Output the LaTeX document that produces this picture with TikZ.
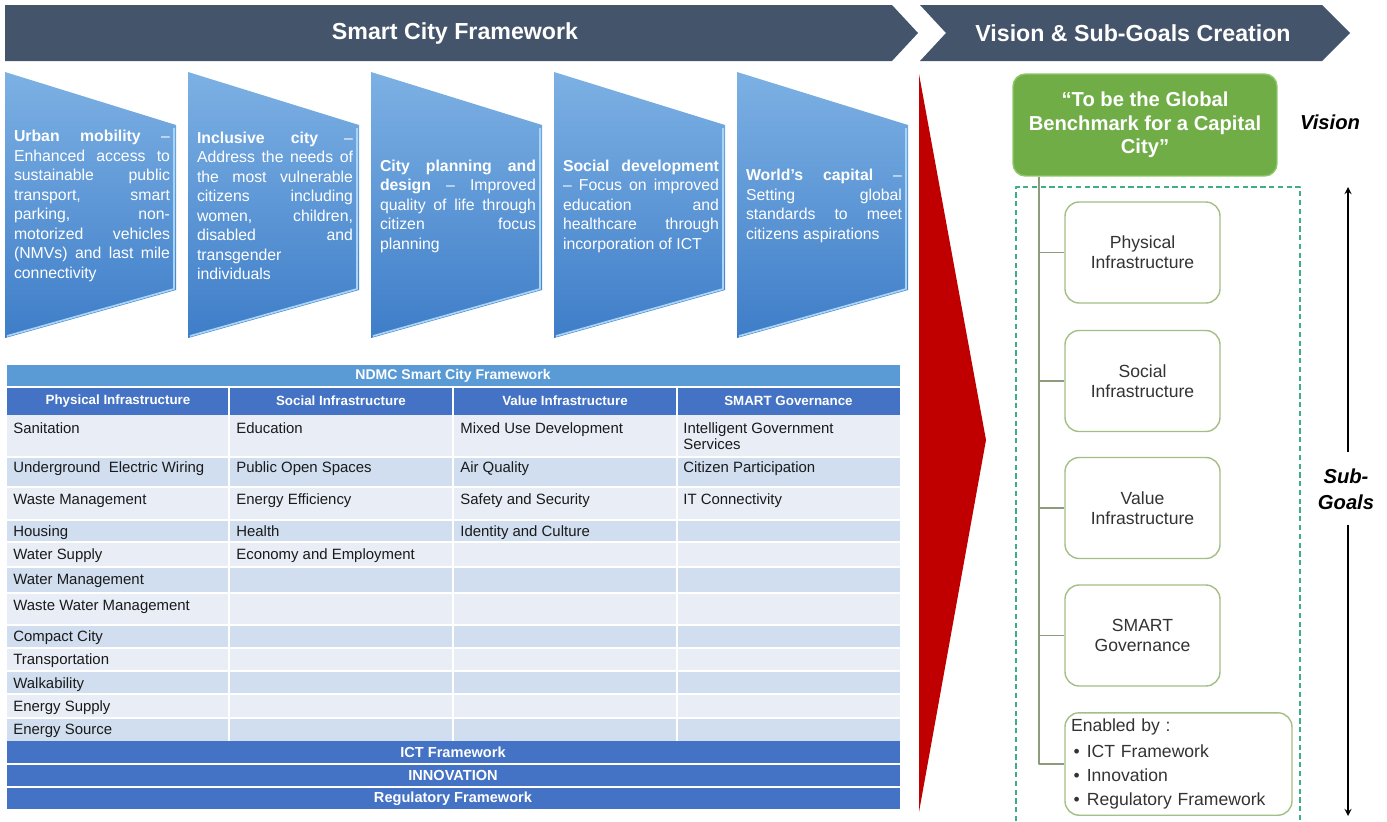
\documentclass[tikz,border=0pt]{standalone}
\usepackage{fontspec}
\setmainfont{Liberation Sans}
\tolerance=10000
\definecolor{banner}{HTML}{44546A}
\definecolor{pentlt}{HTML}{7DB1E4}
\definecolor{pentdk}{HTML}{3E7DC8}
\definecolor{pentedge}{HTML}{A8D4F6}
\definecolor{ttlblue}{HTML}{5B9BD5}
\definecolor{hdrblue}{HTML}{4472C4}
\definecolor{rowa}{HTML}{E9EEF6}
\definecolor{rowb}{HTML}{D0DEEF}
\definecolor{celltext}{HTML}{1A1A1A}
\definecolor{redtri}{HTML}{C00000}
\definecolor{visgreen}{HTML}{70AD47}
\definecolor{visedge}{HTML}{8FC76B}
\definecolor{goaledge}{HTML}{A2BF86}
\definecolor{trunkc}{HTML}{8E9C7E}
\definecolor{dashc}{HTML}{3FAE85}
\definecolor{goaltext}{HTML}{333333}
\tikzset{
  bannertext/.style={text=white, inner sep=0pt, font=\bfseries\fontsize{13.2}{15}\selectfont},
  pentext/.style={text width=3.12cm, inner sep=0pt, align=justify, text=white,
    font=\fontsize{9}{11.1}\selectfont},
  cell/.style={anchor=west, inner sep=0pt, text height=6pt, text depth=0pt, text=celltext,
    font=\fontsize{8.5}{9.5}\selectfont},
  headcell/.style={inner sep=0pt, text=white, font=\bfseries\fontsize{7.6}{9}\selectfont},
  bar/.style={inner sep=0pt, text=white, font=\bfseries\fontsize{8.3}{9}\selectfont},
  goalbox/.style={draw=goaledge, line width=0.8pt, rounded corners=8pt, fill=white,
    minimum width=3.1cm, minimum height=2.02cm, align=center, text=goaltext,
    font=\fontsize{10}{11.3}\selectfont},
  trunk/.style={draw=trunkc, line width=0.8pt},
  biglab/.style={font=\bfseries\itshape\fontsize{11.5}{14.7}\selectfont, align=center}
}
\begin{document}
\begin{tikzpicture}[x=0.02cm, y=-0.02cm, line join=round, >=stealth]
\useasboundingbox (0,0) rectangle (1387,822);
% banners
\fill[banner] (5,5) -- (892,5) -- (918,33) -- (892,61) -- (5,61) -- cycle;
\fill[banner] (920,5) -- (1322,5) -- (1350,33) -- (1322,61) -- (920,61) -- (946,33) -- cycle;
\node[bannertext] (scf) at (455,33) {Smart City Framework};
\node[bannertext] (vsg) at (1133,33) {Vision \& Sub-Goals Creation};

% blue pentagons
\foreach \x in {5,188,371,554,737}{
  \shade[top color=pentlt, bottom color=pentdk] (\x,72) -- (\x+171,125) -- (\x+171,290)
    -- (\x,338) -- cycle;
  \draw[pentedge, line width=1pt] (\x+169,128) -- (\x+169,289) -- (\x+2,336);
}
\node[pentext] (um) at (92,206) {\textbf{Urban mobility} –\linebreak Enhanced access to\linebreak
  sustainable public\linebreak transport, smart\linebreak parking, non-\linebreak motorized vehicles\linebreak
  (NMVs) and last mile\linebreak connectivity};
\node[pentext] (ic) at (275,206) {\textbf{Inclusive city} –\linebreak Address the needs of\linebreak
  the most vulnerable\linebreak citizens including\linebreak women, children,\linebreak disabled and\linebreak
  transgender\linebreak individuals};
\node[pentext] (cp) at (458,206) {\textbf{City planning and}\linebreak \textbf{design} – Improved\linebreak
  quality of life through\linebreak citizen focus\linebreak planning};
\node[pentext] (sd) at (641,206) {\textbf{Social development}\linebreak – Focus on improved\linebreak
  education and\linebreak healthcare through\linebreak incorporation of ICT};
\node[pentext] (wc) at (824,206) {\textbf{World’s capital} –\linebreak Setting global\linebreak
  standards to meet\linebreak citizens aspirations};

% red wedge
\fill[redtri] (919,74) -- (986,440) -- (919,812) -- cycle;

% table
\fill[ttlblue] (7,365) rectangle (900,386);
\node[bar, font=\bfseries\fontsize{8}{9}\selectfont] (ttl) at (453,375.5) {NDMC Smart City Framework};
\fill[hdrblue] (7,388) rectangle (900,415);
\foreach \x/\t [count=\i] in {118/Physical Infrastructure, 341/Social Infrastructure,
  565/Value Infrastructure, 788.5/SMART Governance}
  \node[headcell] (hd\i) at (\x,401) {\t};
\foreach \ya/\yb/\c in {415/457/rowa, 457/487/rowb, 487/520/rowa, 520/542/rowb, 542/567/rowa,
  567/593/rowb, 593/625/rowa, 625/648/rowb, 648/671/rowa, 671/694/rowb, 694/718/rowa, 718/741/rowb}
  \fill[\c] (7,\ya) rectangle (900,\yb);
\foreach \ya in {457,487,520,542,567,593,625,648,671,694,718}
  \draw[white, line width=0.6pt] (7,\ya) -- (900,\ya);
\foreach \x in {229,453,677}
  \draw[white, line width=0.8pt] (\x,388) -- (\x,741);
\foreach \y/\t [count=\i] in {428/Sanitation, 467/Underground~ Electric Wiring, 499/Waste Management,
  531/Housing, 554/Water Supply, 579/Water Management, 605/Waste Water Management, 636/Compact City,
  659/Transportation, 683/Walkability, 706/Energy Supply, 729/Energy Source}
  \node[cell] (pa\i) at (13,\y) {\t};
\foreach \y/\t [count=\i] in {428/Education, 467/Public Open Spaces, 499/Energy Efficiency,
  531/Health, 554/Economy and Employment}
  \node[cell] (so\i) at (236,\y) {\t};
\foreach \y/\t [count=\i] in {428/Mixed Use Development, 467/Air Quality, 499/Safety and Security,
  531/Identity and Culture}
  \node[cell] (va\i) at (460,\y) {\t};
\foreach \y/\t [count=\i] in {428/Intelligent Government, 444/Services, 467/Citizen Participation,
  499/IT Connectivity}
  \node[cell] (sg\i) at (683,\y) {\t};
\foreach \ya/\yb/\t [count=\i] in {741/763/ICT Framework, 765/786/INNOVATION, 788/809/Regulatory Framework}{
  \fill[hdrblue] (7,\ya) rectangle (900,\yb);
  \node[bar] (bar\i) at (453,{(\ya+\yb)/2}) {\t};
}

% vision and sub-goals
\node[fill=visgreen, draw=visedge, line width=0.8pt, rounded corners=7pt, minimum width=5.28cm,
  minimum height=2.04cm, align=center, text=white, font=\bfseries\fontsize{11.5}{13.3}\selectfont]
  (vis) at (1145,125) {“To be the Global\\Benchmark for a Capital\\City”};
\node[biglab] (vlab) at (1330,122) {Vision};
\draw[dashc, line width=0.8pt, dash pattern=on 3pt off 2pt] (1016,830) |- (1300,187) -- (1300,830);
\node[goalbox] (phys) at (1142.5,252.5) {Physical\\Infrastructure};
\node[goalbox] (soc) at (1142.5,381) {Social\\Infrastructure};
\node[goalbox] (val) at (1142.5,508) {Value\\Infrastructure};
\node[goalbox] (gov) at (1142.5,635.5) {SMART\\Governance};
\node[goalbox, minimum width=4.54cm, text width=4.3cm, align=left, font=\fontsize{10}{13.6}\selectfont]
  (enab) at (1178.5,764) {Enabled by :\\[1.5pt]\hspace*{1.5pt}•\hspace*{4pt}ICT Framework\\
  \hspace*{1.5pt}•\hspace*{4pt}Innovation\\\hspace*{1.5pt}•\hspace*{4pt}Regulatory Framework};
\coordinate (trk) at ([xshift=-2.12cm]vis.south);
\draw[trunk] (trk) |- (enab.west);
\foreach \g in {phys,soc,val,gov}
  \draw[trunk] (trk |- \g.west) -- (\g.west);

% sub-goals arrow
\node[biglab] (sgl) at (1346,489) {Sub-\\Goals};
\coordinate (aup) at (1348,187);
\coordinate (adn) at (1348,816);
\draw[->, line width=0.8pt] ([yshift=0.2cm]sgl.north -| aup) -- (aup);
\draw[->, line width=0.8pt] ([yshift=-0.18cm]sgl.south -| adn) -- (adn);
\end{tikzpicture}
\end{document}
